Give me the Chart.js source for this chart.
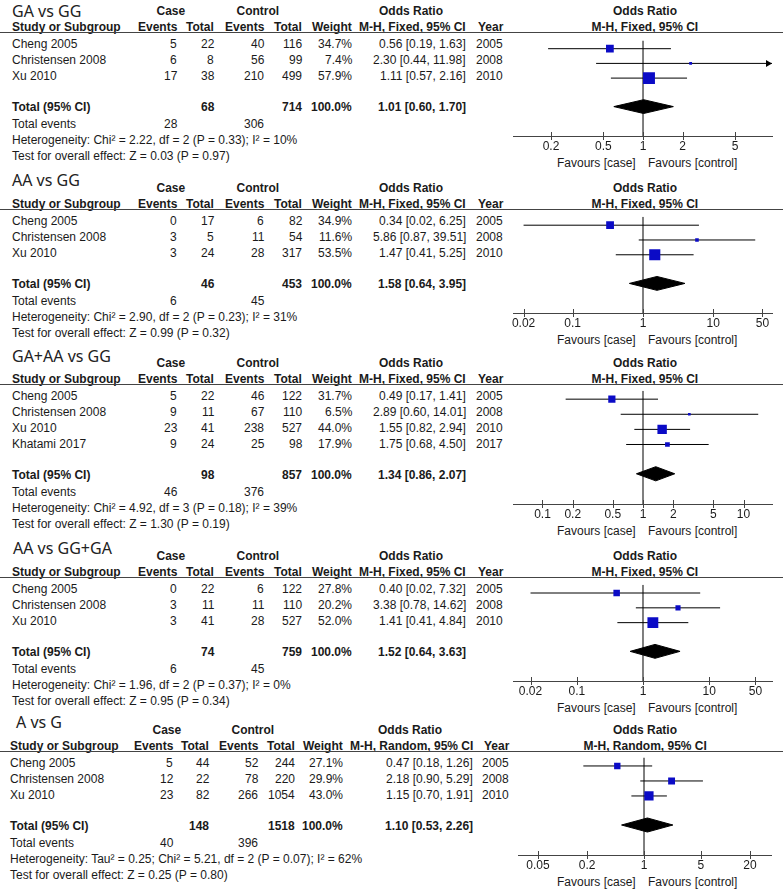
<!DOCTYPE html>
<html><head><meta charset="utf-8">
<script src="https://cdn.jsdelivr.net/npm/chart.js@4.4.1/dist/chart.umd.min.js"></script>
<style>
html,body{margin:0;padding:0;background:#fff;}
#page{position:relative;width:783px;height:893px;overflow:hidden;font-family:"Liberation Sans",Arial,sans-serif;font-size:12px;color:#1a1a1a;}
.t{position:absolute;white-space:nowrap;height:16px;line-height:16px;}
.b{font-weight:bold;}
.title{font-family:"Noto Sans",sans-serif;font-size:16px;height:20px;line-height:20px;color:#222;}
.hl{position:absolute;left:0;width:783px;height:1px;background:#444;}
canvas{position:absolute;}
</style></head><body><div id="page"></div>
<script>
// ---------- data ----------
const panelTitles = ["GA vs GG", "AA vs GG", "GA+AA vs GG", "AA vs GG+GA", "A vs G"];
const methodLabels = ["M-H, Fixed, 95% CI", "M-H, Fixed, 95% CI", "M-H, Fixed, 95% CI", "M-H, Fixed, 95% CI", "M-H, Random, 95% CI"];
const studyNames = [
  ["Cheng 2005", "Christensen 2008", "Xu 2010"],
  ["Cheng 2005", "Christensen 2008", "Xu 2010"],
  ["Cheng 2005", "Christensen 2008", "Xu 2010", "Khatami 2017"],
  ["Cheng 2005", "Christensen 2008", "Xu 2010"],
  ["Cheng 2005", "Christensen 2008", "Xu 2010"]
];
const caseEvents = [[5, 6, 17], [0, 3, 3], [5, 9, 23, 9], [0, 3, 3], [5, 12, 23]];
const caseTotals = [[22, 8, 38], [17, 5, 24], [22, 11, 41, 24], [22, 11, 41], [44, 22, 82]];
const ctrlEvents = [[40, 56, 210], [6, 11, 28], [46, 67, 238, 25], [6, 11, 28], [52, 78, 266]];
const ctrlTotals = [[116, 99, 499], [82, 54, 317], [122, 110, 527, 98], [122, 110, 527], [244, 220, 1054]];
const weights = [[34.7, 7.4, 57.9], [34.9, 11.6, 53.5], [31.7, 6.5, 44.0, 17.9], [27.8, 20.2, 52.0], [27.1, 29.9, 43.0]];
const oddsRatios = [[0.56, 2.30, 1.11], [0.34, 5.86, 1.47], [0.49, 2.89, 1.55, 1.75], [0.40, 3.38, 1.41], [0.47, 2.18, 1.15]];
const ciLower = [[0.19, 0.44, 0.57], [0.02, 0.87, 0.41], [0.17, 0.60, 0.82, 0.68], [0.02, 0.78, 0.41], [0.18, 0.90, 0.70]];
const ciUpper = [[1.63, 11.98, 2.16], [6.25, 39.51, 5.25], [1.41, 14.01, 2.94, 4.50], [7.32, 14.62, 4.84], [1.26, 5.29, 1.91]];
const studyYears = [[2005, 2008, 2010], [2005, 2008, 2010], [2005, 2008, 2010, 2017], [2005, 2008, 2010], [2005, 2008, 2010]];
const totalCase = [68, 46, 98, 74, 148];
const totalCtrl = [714, 453, 857, 759, 1518];
const totalOR = [1.01, 1.58, 1.34, 1.52, 1.10];
const totalLower = [0.60, 0.64, 0.86, 0.64, 0.53];
const totalUpper = [1.70, 3.95, 2.07, 3.63, 2.26];
const eventsCase = [28, 6, 46, 6, 40];
const eventsCtrl = [306, 45, 376, 45, 396];
const heterogeneity = [
  "Heterogeneity: Chi\u00b2 = 2.22, df = 2 (P = 0.33); I\u00b2 = 10%",
  "Heterogeneity: Chi\u00b2 = 2.90, df = 2 (P = 0.23); I\u00b2 = 31%",
  "Heterogeneity: Chi\u00b2 = 4.92, df = 3 (P = 0.18); I\u00b2 = 39%",
  "Heterogeneity: Chi\u00b2 = 1.96, df = 2 (P = 0.37); I\u00b2 = 0%",
  "Heterogeneity: Tau\u00b2 = 0.25; Chi\u00b2 = 5.21, df = 2 (P = 0.07); I\u00b2 = 62%"
];
const overallEffect = [
  "Test for overall effect: Z = 0.03 (P = 0.97)",
  "Test for overall effect: Z = 0.99 (P = 0.32)",
  "Test for overall effect: Z = 1.30 (P = 0.19)",
  "Test for overall effect: Z = 0.95 (P = 0.34)",
  "Test for overall effect: Z = 0.25 (P = 0.80)"
];
const tickValues = [[0.2, 0.5, 1, 2, 5], [0.02, 0.1, 1, 10, 50], [0.1, 0.2, 0.5, 1, 2, 5, 10], [0.02, 0.1, 1, 10, 50], [0.05, 0.2, 1, 5, 20]];
const tickLabels = [["0.2", "0.5", "1", "2", "5"], ["0.02", "0.1", "1", "10", "50"], ["0.1", "0.2", "0.5", "1", "2", "5", "10"], ["0.02", "0.1", "1", "10", "50"], ["0.05", "0.2", "1", "5", "20"]];
const axisMin = [0.1028, 0.01415, 0.0509, 0.01087, 0.0284];
const axisMax = [9.55, 68.4, 19.2, 88.9, 36.2];

// ---------- layout ----------
const page = document.getElementById('page');
const lineY = [32, 209, 384, 577, 751];
const titleX = [12, 12, 12, 13, 16];
const titleDy = [-21, -29, -28, -29, -29];
const colsA = {study: 12, caseEv: 177, caseTot: 214, ctrlEv: 264, ctrlTot: 302, weight: 352, or: 466, year: 503, caseHdr: 171, ctrlHdr: 258, orHdr: 411};
const colsB = {study: 10, caseEv: 173, caseTot: 209, ctrlEv: 258, ctrlTot: 295, weight: 343, or: 473, year: 509, caseHdr: 167, ctrlHdr: 253, orHdr: 410};
const axisLeft = [513, 513, 513, 513, 518];
const axisRight = [772, 772, 772, 772, 771];
const plotHdrX = 645;
const canvasLeft = 500, canvasW = 283;
const ROW = 16;

function put(text, x, y, align, cls) {
  const d = document.createElement('div');
  d.className = 't' + (cls ? ' ' + cls : '');
  d.textContent = text;
  page.appendChild(d);
  const h = d.offsetHeight, w = d.offsetWidth;
  d.style.top = (y - h / 2) + 'px';
  d.style.left = (align === 'left' ? x : align === 'right' ? x - w : x - w / 2) + 'px';
}
const f2 = v => v.toFixed(2);
const orText = (o, l, h) => f2(o) + " [" + f2(l) + ", " + f2(h) + "]";

const forestExtras = {
  id: 'forestExtras',
  afterDatasetsDraw(chart) {
    const p = chart.options.plugins.forestExtras.panel;
    const xs = chart.scales.x, ys = chart.scales.y, a = chart.chartArea, ctx = chart.ctx;
    ctx.save();
    ctx.fillStyle = '#000';
    ciUpper[p].forEach((hi, i) => {
      if (hi > xs.max) {
        const y = ys.getPixelForValue(i);
        ctx.beginPath(); ctx.moveTo(a.right, y); ctx.lineTo(a.right - 6, y - 3.5); ctx.lineTo(a.right - 6, y + 3.5); ctx.closePath(); ctx.fill();
      }
    });
    ciLower[p].forEach((lo, i) => {
      if (lo < xs.min) {
        const y = ys.getPixelForValue(i);
        ctx.beginPath(); ctx.moveTo(a.left, y); ctx.lineTo(a.left + 6, y - 3.5); ctx.lineTo(a.left + 6, y + 3.5); ctx.closePath(); ctx.fill();
      }
    });
    ctx.restore();
  },
  afterDraw(chart) {
    const xs = chart.scales.x, a = chart.chartArea, ctx = chart.ctx;
    ctx.save();
    ctx.strokeStyle = '#444'; ctx.lineWidth = 1;
    ctx.beginPath();
    xs.ticks.forEach(t => {
      const px = Math.round(xs.getPixelForValue(t.value)) + 0.5;
      ctx.moveTo(px, a.bottom - 4); ctx.lineTo(px, a.bottom + 4);
    });
    ctx.stroke();
    ctx.restore();
  }
};

for (let p = 0; p < 5; p++) {
  const L = lineY[p], c = p === 4 ? colsB : colsA, n = studyNames[p].length;
  const rowY = i => L + 9 + ROW * i;           // mark centre
  const diamY = rowY(n - 1) + 31;
  const axisY = diamY + 32;
  const tOff = 3;                               // text sits slightly below marks

  put(panelTitles[p], titleX[p], L + titleDy[p], 'left', 'title');
  const h1 = L - 21, h2 = L - 5;
  put("Case", c.caseHdr, h1, 'center', 'b');
  put("Control", c.ctrlHdr, h1, 'center', 'b');
  put("Odds Ratio", c.orHdr, h1, 'center', 'b');
  put("Odds Ratio", plotHdrX, h1, 'center', 'b');
  put("Study or Subgroup", c.study, h2, 'left', 'b');
  put("Events", c.caseEv, h2, 'right', 'b');
  put("Total", c.caseTot, h2, 'right', 'b');
  put("Events", c.ctrlEv, h2, 'right', 'b');
  put("Total", c.ctrlTot, h2, 'right', 'b');
  put("Weight", c.weight, h2, 'right', 'b');
  put(methodLabels[p], c.or, h2, 'right', 'b');
  put("Year", c.year, h2, 'right', 'b');
  put(methodLabels[p], plotHdrX, h2, 'center', 'b');
  const hl = document.createElement('div'); hl.className = 'hl'; hl.style.top = L + 'px'; page.appendChild(hl);

  for (let i = 0; i < n; i++) {
    const y = rowY(i) + tOff;
    put(studyNames[p][i], c.study, y, 'left');
    put(String(caseEvents[p][i]), c.caseEv, y, 'right');
    put(String(caseTotals[p][i]), c.caseTot, y, 'right');
    put(String(ctrlEvents[p][i]), c.ctrlEv, y, 'right');
    put(String(ctrlTotals[p][i]), c.ctrlTot, y, 'right');
    put(weights[p][i].toFixed(1) + "%", c.weight, y, 'right');
    put(orText(oddsRatios[p][i], ciLower[p][i], ciUpper[p][i]), c.or, y, 'right');
    put(String(studyYears[p][i]), c.year, y, 'right');
  }
  const ty = diamY + tOff;
  put("Total (95% CI)", c.study, ty, 'left', 'b');
  put(String(totalCase[p]), c.caseTot, ty, 'right', 'b');
  put(String(totalCtrl[p]), c.ctrlTot, ty, 'right', 'b');
  put("100.0%", c.weight, ty, 'right', 'b');
  put(orText(totalOR[p], totalLower[p], totalUpper[p]), c.or, ty, 'right', 'b');
  put("Total events", c.study, ty + 17, 'left');
  put(String(eventsCase[p]), c.caseEv, ty + 17, 'right');
  put(String(eventsCtrl[p]), c.ctrlEv, ty + 17, 'right');
  put(heterogeneity[p], c.study, ty + 33, 'left');
  put(overallEffect[p], c.study, ty + 49, 'left');

  put("Favours [case]", 636, axisY + 27, 'right');
  put("Favours [control]", 648, axisY + 27, 'left');

  // ---- chart ----
  const areaH = axisY - L;
  const cv = document.createElement('canvas');
  cv.width = canvasW; cv.height = areaH + 18;
  cv.style.left = canvasLeft + 'px'; cv.style.top = L + 'px';
  cv.style.width = canvasW + 'px'; cv.style.height = (areaH + 18) + 'px';
  page.appendChild(cv);

  const yMin = -9 / ROW;
  const yMax = (axisY - rowY(0)) / ROW;
  const dRow = (diamY - rowY(0)) / ROW;
  const dHalf = 7.5 / ROW;

  const datasets = [];
  datasets.push({
    data: oddsRatios[p].map((v, i) => ({x: v, y: i})),
    pointStyle: 'rect',
    pointRadius: ctx => (1.5 + 0.18 * weights[p][ctx.dataIndex]) / Math.SQRT2,
    backgroundColor: '#0b0bc6', borderWidth: 0, order: 0
  });
  oddsRatios[p].forEach((v, i) => {
    datasets.push({
      data: [{x: ciLower[p][i], y: i}, {x: ciUpper[p][i], y: i}],
      showLine: true, borderColor: '#000', borderWidth: 1, pointRadius: 0, order: 1
    });
  });
  datasets.push({
    data: [{x: totalLower[p], y: dRow}, {x: totalOR[p], y: dRow - dHalf}, {x: totalUpper[p], y: dRow}],
    showLine: true, borderColor: '#000', borderWidth: 1, pointRadius: 0, fill: false, order: 2
  });
  datasets.push({
    data: [{x: totalLower[p], y: dRow}, {x: totalOR[p], y: dRow + dHalf}, {x: totalUpper[p], y: dRow}],
    showLine: true, borderColor: '#000', borderWidth: 1, pointRadius: 0, fill: '-1', backgroundColor: '#000', order: 2
  });
  datasets.push({
    data: [{x: 1, y: yMin}, {x: 1, y: yMax}],
    showLine: true, borderColor: '#555', borderWidth: 1.5, pointRadius: 0, order: 3
  });

  new Chart(cv, {
    type: 'scatter',
    data: {datasets},
    options: {
      responsive: false, animation: false, events: [],
      layout: {padding: {left: axisLeft[p] - canvasLeft, right: canvasLeft + canvasW - axisRight[p], top: 0, bottom: 0}},
      plugins: {legend: {display: false}, tooltip: {enabled: false}, forestExtras: {panel: p}},
      scales: {
        x: {
          type: 'logarithmic', min: axisMin[p], max: axisMax[p],
          afterBuildTicks: s => { s.ticks = tickValues[p].map(v => ({value: v})); },
          ticks: {autoSkip: false, maxRotation: 0, minRotation: 0, padding: 1, color: '#1a1a1a',
                  font: {family: '"Liberation Sans", Arial, sans-serif', size: 12, lineHeight: 1},
                  callback: (v, i) => tickLabels[p][i]},
          grid: {display: true, drawOnChartArea: false, drawTicks: true, tickLength: 4, color: 'rgba(0,0,0,0)'},
          border: {display: true, color: '#444', width: 1}
        },
        y: {type: 'linear', reverse: true, min: yMin, max: yMax, display: false}
      }
    },
    plugins: [forestExtras]
  });
}
</script></body></html>
